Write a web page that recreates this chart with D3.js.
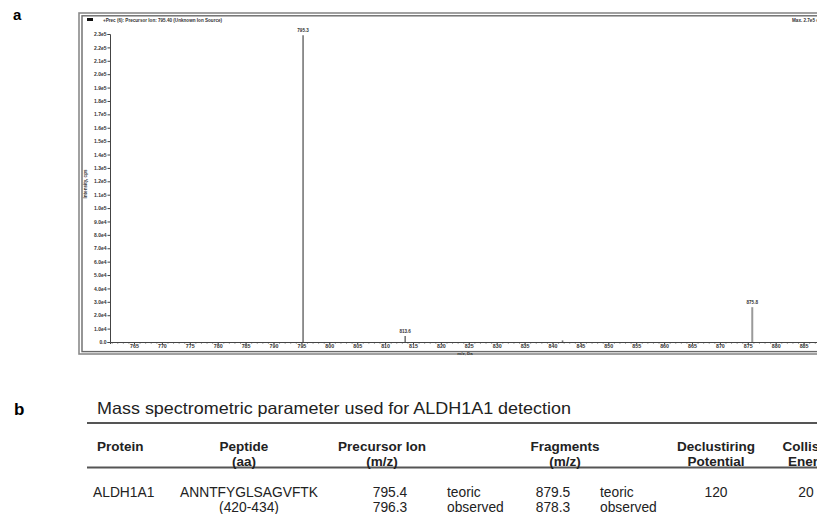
<!DOCTYPE html>
<html>
<head>
<meta charset="utf-8">
<script src="https://cdn.jsdelivr.net/npm/d3@7"></script>
<style>
  html, body { margin: 0; padding: 0; background: #fff; }
  svg { display: block; font-family: "Liberation Sans", Arial, sans-serif; }
</style>
</head>
<body>
<div id="chart"></div>
<script>
(function() {
    const W = 817, H = 514;

    // spectrum (a)
    const peakMz = [795.3, 813.6, 841.8, 875.8];
    const peakIntensity = [229000, 4500, 1200, 26000];
    const peakLabels = ["795.3", "813.6", "", "875.8"];
    const yTicks = d3.range(0, 230001, 10000);
    const xTicks = d3.range(765, 890, 5);
    const headerLeft = "+Prec (6): Precursor Ion: 795.40 (Unknown Ion Source)";
    const headerRight = "Max. 2.7e5 cps.";

    // table (b)
    const tableTitle = "Mass spectrometric parameter used for ALDH1A1 detection";
    const tableHeaders = [
        ["Protein"], ["Peptide", "(aa)"], ["Precursor Ion", "(m/z)"],
        ["Fragments", "(m/z)"], ["Declustiring", "Potential"], ["Collision", "Energy"]
    ];
    const tableRows = [
        ["ALDH1A1", "ANNTFYGLSAGVFTK", "795.4", "teoric", "879.5", "teoric", "120", "20"],
        ["", "(420-434)", "796.3", "observed", "878.3", "observed", "", ""]
    ];

    const svg = d3.select("#chart").append("svg")
        .attr("width", W).attr("height", H);

    // lettres des panneaux
    svg.append("text").attr("x", 13).attr("y", 20)
        .style("font-size", "15px").style("font-weight", "bold").text("a");
    svg.append("text").attr("x", 14).attr("y", 415)
        .style("font-size", "17px").style("font-weight", "bold").text("b");

    // ---- cadre de la fenêtre du spectre
    svg.append("rect").attr("x", 79).attr("y", 13).attr("width", 780).attr("height", 341)
        .attr("fill", "none").attr("stroke", "#8a8a8a").attr("stroke-width", 1.6);
    svg.append("rect").attr("x", 82).attr("y", 15.8).attr("width", 780).attr("height", 335.8)
        .attr("fill", "none").attr("stroke", "#6a6a6a").attr("stroke-width", 1.4);

    svg.append("rect").attr("x", 87).attr("y", 18).attr("width", 6).attr("height", 3).attr("fill", "#111");
    svg.append("text").attr("x", 103).attr("y", 22)
        .style("font-size", "4.6px").style("font-weight", "bold").attr("fill", "#333")
        .text(headerLeft);
    svg.append("text").attr("x", 792).attr("y", 22)
        .style("font-size", "4.6px").style("font-weight", "bold").attr("fill", "#333")
        .text(headerRight);

    const x = d3.scaleLinear().domain([760.7, 890]).range([110, 110 + 129.3 * 5.58]);
    const y = d3.scaleLinear().domain([0, 230000]).range([342, 34]);

    const fmt = v => v === 0 ? "0.0" : d3.format(".1e")(v).replace("e+", "e");

    const yAxis = svg.append("g")
        .attr("transform", "translate(110,0)")
        .call(d3.axisLeft(y).tickValues(yTicks).tickFormat(fmt).tickSize(2.5).tickPadding(1));
    yAxis.select(".domain").attr("stroke", "#444").attr("stroke-width", 1);
    yAxis.selectAll(".tick line").attr("stroke", "#444");
    yAxis.selectAll("text").style("font-size", "5px").style("font-weight", "bold")
        .attr("fill", "#333").style("font-family", "Liberation Sans, Arial, sans-serif");

    // petites graduations x
    svg.append("g")
        .attr("transform", "translate(0,342)")
        .call(d3.axisBottom(x).tickValues(d3.range(761, 890, 1)).tickFormat("").tickSize(1.5))
        .call(g => g.select(".domain").remove())
        .call(g => g.selectAll(".tick line").attr("stroke", "#555"));

    const xAxis = svg.append("g")
        .attr("transform", "translate(0,342)")
        .call(d3.axisBottom(x).tickValues(xTicks).tickFormat(d3.format("d")).tickSize(2).tickPadding(0.3));
    xAxis.select(".domain").attr("stroke", "#444").attr("stroke-width", 1);
    xAxis.selectAll(".tick line").attr("stroke", "#444");
    xAxis.selectAll("text").style("font-size", "5.3px").style("font-weight", "bold")
        .attr("fill", "#333").style("font-family", "Liberation Sans, Arial, sans-serif");

    svg.append("text").attr("x", 465).attr("y", 354.5).attr("text-anchor", "middle")
        .style("font-size", "4.4px").style("font-weight", "bold").attr("fill", "#333")
        .text("m/z, Da");
    svg.append("text").attr("transform", "translate(87,184) rotate(-90)")
        .attr("text-anchor", "middle")
        .style("font-size", "4.6px").style("font-weight", "bold").attr("fill", "#333")
        .text("Intensity, cps");

    // pics
    const peaks = peakMz.map((m, i) => ({mz: m, v: peakIntensity[i], label: peakLabels[i]}));
    svg.selectAll(".peak").data(peaks).join("line").attr("class", "peak")
        .attr("x1", d => x(d.mz)).attr("x2", d => x(d.mz))
        .attr("y1", y(0)).attr("y2", d => y(d.v))
        .attr("stroke", (d, i) => i === 3 ? "#9a9a9a" : "#777")
        .attr("stroke-width", (d, i) => i === 3 ? 2 : 1.6);
    svg.selectAll(".plabel").data(peaks.filter(d => d.label)).join("text").attr("class", "plabel")
        .attr("x", d => x(d.mz)).attr("y", d => y(d.v) - 3)
        .attr("text-anchor", "middle")
        .style("font-size", "4.6px").style("font-weight", "bold").attr("fill", "#333")
        .text(d => d.label);

    // ---- tableau
    svg.append("text").attr("x", 97).attr("y", 414)
        .attr("textLength", 474).attr("lengthAdjust", "spacingAndGlyphs")
        .style("font-size", "16.5px").attr("fill", "#222").text(tableTitle);

    const ruleX0 = 87;
    svg.append("line").attr("x1", ruleX0).attr("x2", W).attr("y1", 423).attr("y2", 423)
        .attr("stroke", "#555").attr("stroke-width", 2);
    svg.append("line").attr("x1", ruleX0).attr("x2", W).attr("y1", 467.5).attr("y2", 467.5)
        .attr("stroke", "#555").attr("stroke-width", 2);

    const headerCols = [
        {x: 97, anchor: "start"}, {x: 244, anchor: "middle"}, {x: 382, anchor: "middle"},
        {x: 565, anchor: "middle"}, {x: 716, anchor: "middle"}, {x: 811, anchor: "middle"}
    ];
    tableHeaders.forEach((lines, i) => {
        lines.forEach((t, j) => {
            svg.append("text").attr("x", headerCols[i].x).attr("y", 451 + j * 15)
                .attr("text-anchor", headerCols[i].anchor)
                .style("font-size", "13.5px").style("font-weight", "bold").attr("fill", "#222")
                .text(t);
        });
    });

    const rowCols = [
        {x: 93, anchor: "start"}, {x: 249, anchor: "middle"}, {x: 390, anchor: "middle"},
        {x: 447, anchor: "start"}, {x: 553, anchor: "middle"}, {x: 600, anchor: "start"},
        {x: 716, anchor: "middle"}, {x: 806, anchor: "middle"}
    ];
    tableRows.forEach((row, r) => {
        row.forEach((t, c) => {
            if (!t) return;
            svg.append("text").attr("x", rowCols[c].x).attr("y", 497 + r * 15)
                .attr("text-anchor", rowCols[c].anchor)
                .style("font-size", "13.8px").attr("fill", "#222")
                .text(t);
        });
    });
})();
</script>
</body>
</html>
